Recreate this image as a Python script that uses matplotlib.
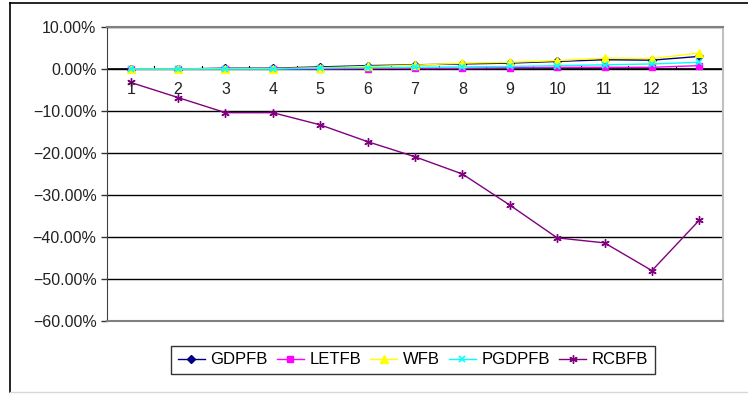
import numpy as np
import matplotlib.pyplot as plt
from matplotlib.lines import Line2D
from matplotlib.ticker import FuncFormatter

plt.rcParams['font.family'] = ['Liberation Sans', 'DejaVu Sans']

periods = list(range(1, 14))
gdpfb = [0.0, 0.0, 0.2, 0.2, 0.5, 0.8, 1.0, 1.2, 1.4, 1.8, 2.2, 2.1, 3.0]
letfb = [0.0, 0.0, 0.0, 0.0, 0.0, 0.1, 0.2, 0.2, 0.3, 0.4, 0.4, 0.4, 0.8]
wfb = [0.0, 0.0, 0.1, 0.1, 0.3, 0.6, 0.9, 1.4, 1.6, 2.0, 2.6, 2.5, 3.8]
pgdpfb = [0.0, 0.0, 0.0, 0.0, 0.2, 0.3, 0.4, 0.5, 0.6, 0.8, 1.0, 1.2, 1.6]
rcbfb = [-3.2, -6.8, -10.4, -10.4, -13.3, -17.3, -20.9, -25.0, -32.4,
         -40.2, -41.4, -48.0, -36.0]
series_names = ['GDPFB', 'LETFB', 'WFB', 'PGDPFB', 'RCBFB']

fig = plt.figure(figsize=(7.48, 3.94), dpi=100)

# outer chart border
fig.add_artist(Line2D([10 / 748, 10 / 748], [0.005, 1 - 3 / 394], color='black', lw=1.2))
fig.add_artist(Line2D([10 / 748, 1.0], [1 - 3 / 394, 1 - 3 / 394], color='black', lw=1.2))
fig.add_artist(Line2D([10 / 748, 1.0], [1 - 392 / 394, 1 - 392 / 394], color='#d8d8d8', lw=1))

ax = fig.add_axes([107 / 748, 1 - 321 / 394, (723 - 107) / 748, (321 - 27) / 394])

x = np.array(periods)
ax.plot(x, gdpfb, color='#000080', marker='D', ms=4, lw=1, label=series_names[0], zorder=3)
ax.plot(x, letfb, color='#ff00ff', marker='s', ms=5, lw=1, label=series_names[1], zorder=3)
ax.plot(x, wfb, color='#ffff00', marker='^', ms=6, lw=1, label=series_names[2], zorder=3)
ax.plot(x, pgdpfb, color='#00ffff', marker='x', ms=5, mew=1.2, lw=1, label=series_names[3], zorder=3)
ax.plot(x, rcbfb, color='#800080', marker=(6, 2, 0), ms=6, mew=1, lw=1, label=series_names[4], zorder=3)

ax.set_xlim(0.5, 13.5)
ax.set_ylim(-60, 10)
ax.set_yticks(np.arange(-60, 11, 10))
ax.yaxis.set_major_formatter(FuncFormatter(lambda v, p: f'{v:.2f}%'.replace('-', '\u2212')))
ax.tick_params(axis='y', length=4, labelsize=11.5, colors='#333333', width=1)
for lab in ax.get_yticklabels():
    lab.set_color('#222222')

# horizontal gridlines
ax.yaxis.grid(True, color='black', lw=1)
ax.set_axisbelow(True)

# category axis at zero
ax.axhline(0, color='black', lw=1.2, zorder=2)
for b in np.arange(1.5, 13.5, 1):
    ax.plot([b, b], [0, 0.8], color='black', lw=0.8, zorder=2)
ax.set_xticks([])
for p in periods:
    ax.text(p, -4.8, str(p), ha='center', va='center', fontsize=11.5, color='#222222')

for side in ['top', 'bottom']:
    ax.spines[side].set_color('#808080')
    ax.spines[side].set_linewidth(1.5)
ax.spines['right'].set_color('#c0c0c0')
ax.spines['right'].set_linewidth(1.5)
ax.spines['left'].set_color('#404040')

leg = fig.legend(loc='center', bbox_to_anchor=(413 / 748, 1 - 360 / 394), ncol=5,
                 frameon=True, fancybox=False, edgecolor='black', fontsize=12,
                 handlelength=1.6, handletextpad=0.35, columnspacing=0.55,
                 borderpad=0.4, borderaxespad=0)
leg.get_frame().set_linewidth(1)

fig.savefig('out.png', dpi=100)
